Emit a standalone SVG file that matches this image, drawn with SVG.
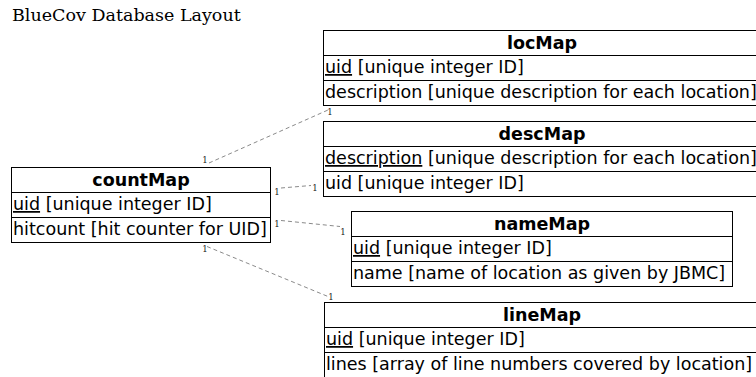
<svg xmlns="http://www.w3.org/2000/svg" width="756" height="377" viewBox="0 0 756 377">
  <style>
    .box { fill: #ffffff; stroke: #000000; stroke-width: 1; }
    .sep { stroke: #000000; stroke-width: 1; }
    .hdr { font-family: "DejaVu Sans", sans-serif; font-size: 17.5px; font-weight: bold; text-anchor: middle; fill: #000; }
    .fld { font-family: "DejaVu Sans", sans-serif; font-size: 17.5px; fill: #000; }
    .key { text-decoration: underline; }
    .title { font-family: "DejaVu Serif", serif; font-size: 17.5px; fill: #000; }
    .rel { fill: none; stroke: #8a8a8a; stroke-width: 1; stroke-dasharray: 4 3; }
    .card { font-family: "DejaVu Serif", serif; font-size: 8.5px; fill: #222; text-anchor: middle; }
  </style>

  <rect width="756" height="377" fill="#ffffff"/>
  <text class="title" x="12" y="21">BlueCov Database Layout</text>

  <!-- relationships between the tables -->
  <g id="connectors">
    <line class="rel" x1="209" y1="163" x2="328" y2="110"/>
    <line class="rel" x1="281" y1="188" x2="311" y2="185.5"/>
    <line class="rel" x1="281" y1="220.5" x2="340" y2="226.5"/>
    <line class="rel" x1="207" y1="246.5" x2="328" y2="296.5"/>
    <text class="card" x="205" y="163">1</text>
    <text class="card" x="330" y="115">1</text>
    <text class="card" x="277" y="195">1</text>
    <text class="card" x="315" y="191">1</text>
    <text class="card" x="277" y="227">1</text>
    <text class="card" x="343" y="235">1</text>
    <text class="card" x="205" y="252">1</text>
    <text class="card" x="331" y="300">1</text>
  </g>

  <g id="countMap">
    <rect class="box" x="11.5" y="167.5" width="259" height="75"/>
    <line class="sep" x1="11.5" y1="192.5" x2="270.5" y2="192.5"/>
    <line class="sep" x1="11.5" y1="217.5" x2="270.5" y2="217.5"/>
    <text class="hdr" x="141" y="186">countMap</text>
    <text class="fld" x="13" y="210"><tspan class="key">uid</tspan> [unique integer ID]</text>
    <text class="fld" x="13" y="235">hitcount [hit counter for UID]</text>
  </g>

  <g id="locMap">
    <rect class="box" x="323.5" y="30.5" width="437" height="75"/>
    <line class="sep" x1="323.5" y1="55.5" x2="760.5" y2="55.5"/>
    <line class="sep" x1="323.5" y1="80.5" x2="760.5" y2="80.5"/>
    <text class="hdr" x="542" y="49">locMap</text>
    <text class="fld" x="325" y="73"><tspan class="key">uid</tspan> [unique integer ID]</text>
    <text class="fld" x="325" y="98">description [unique description for each location]</text>
  </g>

  <g id="descMap">
    <rect class="box" x="323.5" y="121.5" width="437" height="75"/>
    <line class="sep" x1="323.5" y1="146.5" x2="760.5" y2="146.5"/>
    <line class="sep" x1="323.5" y1="171.5" x2="760.5" y2="171.5"/>
    <text class="hdr" x="542" y="140">descMap</text>
    <text class="fld" x="325" y="164"><tspan class="key">description</tspan> [unique description for each location]</text>
    <text class="fld" x="325" y="189">uid [unique integer ID]</text>
  </g>

  <g id="nameMap">
    <rect class="box" x="351.5" y="211.5" width="381" height="75"/>
    <line class="sep" x1="351.5" y1="236.5" x2="732.5" y2="236.5"/>
    <line class="sep" x1="351.5" y1="261.5" x2="732.5" y2="261.5"/>
    <text class="hdr" x="542" y="230">nameMap</text>
    <text class="fld" x="353" y="254"><tspan class="key">uid</tspan> [unique integer ID]</text>
    <text class="fld" x="353" y="279">name [name of location as given by JBMC]</text>
  </g>

  <g id="lineMap">
    <rect class="box" x="324.5" y="302.5" width="436" height="75"/>
    <line class="sep" x1="324.5" y1="327.5" x2="760.5" y2="327.5"/>
    <line class="sep" x1="324.5" y1="352.5" x2="760.5" y2="352.5"/>
    <text class="hdr" x="542" y="321">lineMap</text>
    <text class="fld" x="326" y="345"><tspan class="key">uid</tspan> [unique integer ID]</text>
    <text class="fld" x="326" y="370">lines [array of line numbers covered by location]</text>
  </g>
</svg>
